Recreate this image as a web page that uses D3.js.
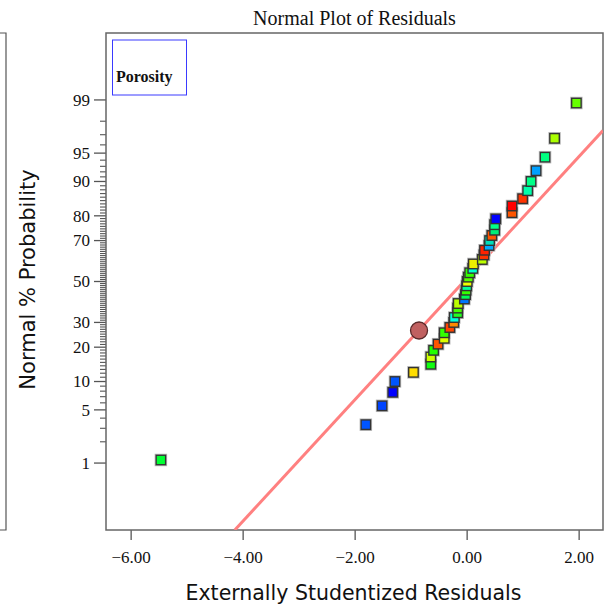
<!DOCTYPE html>
<html>
<head>
<meta charset="utf-8">
<script src="https://cdn.jsdelivr.net/npm/d3@7"></script>
<style>
html,body{margin:0;padding:0;background:#fff;}
svg{display:block;}
</style>
</head>
<body>
<svg id="chart" width="608" height="607"></svg>
<script>
// ---- data ----
const residuals = [-5.46, -1.80, -1.51, -1.32, -1.28, -0.95, -0.64, -0.64, -0.59, -0.51,
  -0.40, -0.40, -0.30, -0.23, -0.22, -0.16, -0.16, -0.15, -0.04, -0.02,
  -0.01, 0.00, 0.01, 0.03, 0.055, 0.11, 0.12, 0.28, 0.31, 0.32,
  0.40, 0.41, 0.45, 0.50, 0.50, 0.52, 0.81, 0.81, 1.00, 1.09,
  1.15, 1.24, 1.40, 1.57, 1.96];
const probPct = [1.11, 3.33, 5.56, 7.78, 10.00, 12.22, 14.44, 16.67, 18.89, 21.11,
  23.33, 25.56, 27.78, 30.00, 32.22, 34.44, 36.67, 38.89, 41.11, 43.33,
  45.56, 47.78, 50.00, 52.22, 54.44, 56.67, 58.89, 61.11, 63.33, 65.56,
  67.78, 70.00, 72.22, 74.44, 76.67, 78.89, 81.11, 83.33, 85.56, 87.78,
  90.00, 92.22, 94.44, 96.67, 98.89];
const pointColors = ["#00ff33","#0055ff","#0044ff","#0000ff","#0055ff","#ffdd00","#11ff11","#ccff00","#22ff00","#ff5500",
  "#ddff00","#33ff00","#ff4400","#ff8800","#00ffdd","#22ff22","#44ff00","#bbff00","#0077ff","#00ff55",
  "#33ff00","#00ff99","#eeff00","#55ff00","#33ff00","#00ffcc","#eeee00","#bbff00","#ff3300","#ff2200",
  "#00aaff","#00ddbb","#ff5500","#00ee77","#00ff88","#0000ff","#ff5500","#ff0000","#ff3300","#00ffaa",
  "#00ff88","#00a0ff","#00ff80","#aaff00","#66ff00"];
const highlightRes = [-0.85];
const highlightPct = [26.5];
const lineRes = [-4.14, 2.434];
const linePct = [0.0726, 97.34];
const xTicks = [-6, -4, -2, 0, 2];
const yMajorTicks = [1, 5, 10, 20, 30, 50, 70, 80, 90, 95, 99];
const yMinorTicks = d3.range(1, 100).filter(v => !yMajorTicks.includes(v));
const titleText = "Normal Plot of Residuals";
const xTitle = "Externally Studentized Residuals";
const yTitle = "Normal % Probability";
const legendText = "Porosity";

// inverse normal CDF (Acklam)
function probit(p) {
  const a = [-3.969683028665376e+01, 2.209460984245205e+02, -2.759285104469687e+02, 1.383577518672690e+02, -3.066479806614716e+01, 2.506628277459239e+00];
  const b = [-5.447609879822406e+01, 1.615858368580409e+02, -1.556989798598866e+02, 6.680131188771972e+01, -1.328068155288572e+01];
  const c = [-7.784894002430293e-03, -3.223964580411365e-01, -2.400758277161838e+00, -2.549732539343734e+00, 4.374664141464968e+00, 2.938163982698783e+00];
  const d = [7.784695709041462e-03, 3.224671290700398e-01, 2.445134137142996e+00, 3.754408661907416e+00];
  const pl = 0.02425, ph = 1 - pl;
  let q, r;
  if (p < pl) {
    q = Math.sqrt(-2 * Math.log(p));
    return (((((c[0]*q+c[1])*q+c[2])*q+c[3])*q+c[4])*q+c[5]) / ((((d[0]*q+d[1])*q+d[2])*q+d[3])*q+1);
  } else if (p <= ph) {
    q = p - 0.5; r = q*q;
    return (((((a[0]*r+a[1])*r+a[2])*r+a[3])*r+a[4])*r+a[5])*q / (((((b[0]*r+b[1])*r+b[2])*r+b[3])*r+b[4])*r+1);
  } else {
    q = Math.sqrt(-2 * Math.log(1 - p));
    return -(((((c[0]*q+c[1])*q+c[2])*q+c[3])*q+c[4])*q+c[5]) / ((((d[0]*q+d[1])*q+d[2])*q+d[3])*q+1);
  }
}

// ---- layout ----
const L = 106, R = 603, T = 33, B = 530;
const svg = d3.select("#chart");

const x = d3.scaleLinear().domain([-6.44, 2.435]).range([L, R]);
const zScale = d3.scaleLinear().domain([-3.184, 3.184]).range([B, T]);
const y = pct => zScale(probit(pct / 100));

const serif = "'Liberation Serif','Times New Roman',serif";
const sans = "'DejaVu Sans',Verdana,sans-serif";

// left artifact bracket
svg.append("path").attr("d", `M0,${T}H6V${B}H0`).attr("fill", "none").attr("stroke", "#555").attr("stroke-width", 1.2);

// title
svg.append("text").attr("x", (L + R) / 2).attr("y", 25).attr("text-anchor", "middle")
  .attr("font-family", serif).attr("font-size", 20).attr("fill", "#111").text(titleText);

// clip
svg.append("clipPath").attr("id", "plotclip").append("rect")
  .attr("x", L).attr("y", T).attr("width", R - L).attr("height", B - T);

// x axis
const xAxis = svg.append("g").attr("transform", `translate(0,${B})`)
  .call(d3.axisBottom(x).tickValues(xTicks).tickFormat(d3.format(".2f")).tickSize(10).tickPadding(6));
xAxis.select(".domain").remove();
xAxis.selectAll("line").attr("stroke", "#555").attr("stroke-width", 1.3);
xAxis.selectAll("text").attr("font-family", serif).attr("font-size", 17).attr("fill", "#111")
  .attr("dy", "0.71em").attr("y", 21);

// y axis
const yAxisG = svg.append("g").attr("transform", `translate(${L},0)`);
yAxisG.selectAll("line.minor").data(yMinorTicks).join("line").attr("class", "minor")
  .attr("x1", -6).attr("x2", 0).attr("y1", d => y(d)).attr("y2", d => y(d))
  .attr("stroke", "#555").attr("stroke-width", 1.1);
yAxisG.selectAll("line.major").data(yMajorTicks).join("line").attr("class", "major")
  .attr("x1", -12).attr("x2", 0).attr("y1", d => y(d)).attr("y2", d => y(d))
  .attr("stroke", "#555").attr("stroke-width", 1.3);
yAxisG.selectAll("text").data(yMajorTicks).join("text")
  .attr("x", -16).attr("y", d => y(d)).attr("dy", "0.34em").attr("text-anchor", "end")
  .attr("font-family", serif).attr("font-size", 17).attr("fill", "#111").text(d => d);

// frame
svg.append("rect").attr("x", L).attr("y", T).attr("width", R - L).attr("height", B - T)
  .attr("fill", "none").attr("stroke", "#666").attr("stroke-width", 1.5);

// axis titles
svg.append("text").attr("x", (L + R) / 2 - 1).attr("y", 600).attr("text-anchor", "middle")
  .attr("font-family", sans).attr("font-size", 20.5).attr("fill", "#111").text(xTitle);
svg.append("text").attr("transform", `translate(35,${(T + B) / 2 - 2}) rotate(-90)`).attr("text-anchor", "middle")
  .attr("font-family", sans).attr("font-size", 21).attr("fill", "#111").text(yTitle);

// legend box
svg.append("rect").attr("x", 112.5).attr("y", 40).attr("width", 74).attr("height", 55)
  .attr("fill", "none").attr("stroke", "#3a3aff").attr("stroke-width", 1);
svg.append("text").attr("x", 116).attr("y", 82).attr("font-family", serif).attr("font-weight", "bold")
  .attr("font-size", 16).attr("fill", "#111").text(legendText);

const plot = svg.append("g").attr("clip-path", "url(#plotclip)");

// fit line
plot.append("line")
  .attr("x1", x(lineRes[0])).attr("y1", y(linePct[0]))
  .attr("x2", x(lineRes[1])).attr("y2", y(linePct[1]))
  .attr("stroke", "#ff8080").attr("stroke-width", 3);

// points
const pts = residuals.map((r, i) => ({ r, p: probPct[i], c: pointColors[i] }));
const s = 9.5;
plot.selectAll("rect.halo").data(pts).join("rect").attr("class", "halo")
  .attr("x", d => x(d.r) - s / 2 - 1).attr("y", d => y(d.p) - s / 2 - 1)
  .attr("width", s + 2).attr("height", s + 2).attr("fill", "none")
  .attr("stroke", "#bbb").attr("stroke-width", 1);
plot.selectAll("rect.pt").data(pts).join("rect").attr("class", "pt")
  .attr("x", d => x(d.r) - s / 2).attr("y", d => y(d.p) - s / 2)
  .attr("width", s).attr("height", s).attr("fill", d => d.c)
  .attr("stroke", "#333").attr("stroke-width", 1.4);

// highlighted point
plot.selectAll("circle.hl").data(highlightRes.map((r, i) => ({ r, p: highlightPct[i] }))).join("circle")
  .attr("class", "hl").attr("cx", d => x(d.r)).attr("cy", d => y(d.p)).attr("r", 8.5)
  .attr("fill", "#c06060").attr("stroke", "#5a2a2a").attr("stroke-width", 1.3);
</script>
</body>
</html>
